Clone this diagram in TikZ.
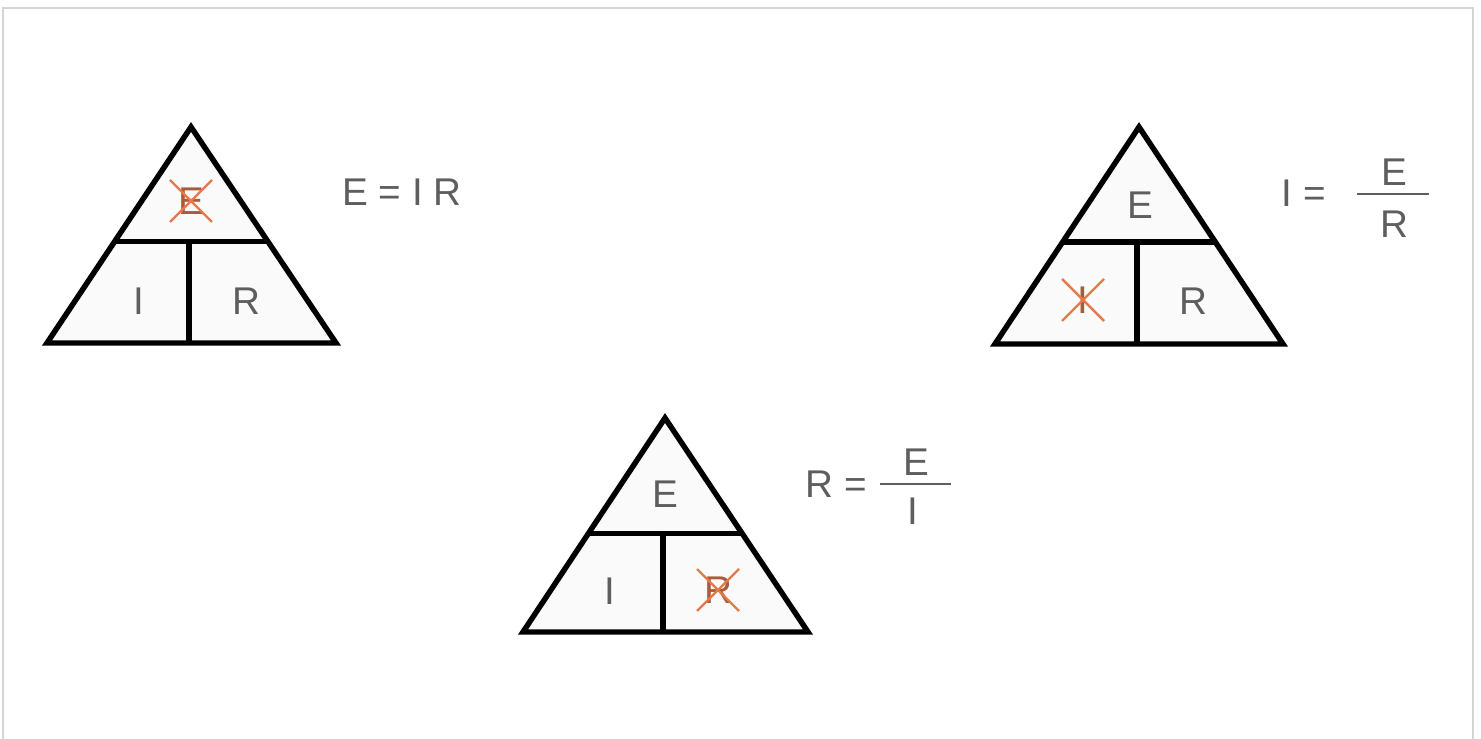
\documentclass[tikz,border=0pt]{standalone}
\usepackage{fontspec}
\setmainfont{Liberation Sans}
\usetikzlibrary{calc}
\definecolor{txtgrey}{HTML}{5E5E5E}
\definecolor{xorange}{HTML}{E27A4C}
\definecolor{framegrey}{HTML}{D4D4D4}
\tikzset{
  tri/.style={line width=3.1pt, line join=miter, fill=black!2},
  letter/.style={text=txtgrey, inner sep=0pt, font=\fontsize{22}{24}\selectfont},
  gone/.style={letter, text=xorange!75!black},
  cancelline/.style={draw=xorange, line width=1.4pt},
  fracbar/.style={draw=txtgrey, line width=1.1pt}
}

\begin{document}
\begin{tikzpicture}[x=0.02cm, y=-0.02cm]
  \useasboundingbox (0,0) rectangle (1481,739);
  \draw[framegrey, line width=0.6pt] (3,739) -- (3,8) -- (1473,8) -- (1473,739);

  % E = I R
  \coordinate (a1) at (191,127);
  \coordinate (l1) at (47,343);
  \coordinate (r1) at (336,343);
  \coordinate (ml1) at ($(a1)!0.53!(l1)$);
  \coordinate (mr1) at ($(a1)!0.53!(r1)$);
  \coordinate (bm1) at (189,343);
  \draw[tri] (a1) -- (r1) -- (l1) -- cycle;
  \draw[tri] (ml1) -- (mr1);
  \draw[tri] (bm1) -- (bm1 |- ml1);
  \node[gone] (e1) at (191,201) {E};
  \node[letter] (i1) at (139,301) {I};
  \node[letter] (rr1) at (246,301) {R};
  \draw[cancelline] ([shift={(-21,-21)}]e1.center) -- ([shift={(21,21)}]e1.center);
  \draw[cancelline] ([shift={(21,-21)}]e1.center) -- ([shift={(-21,21)}]e1.center);
  \node[letter] (eq1) at (402,192) {E = I R};

  % I = E / R
  \coordinate (a2) at (1139,127);
  \coordinate (l2) at (995,344);
  \coordinate (r2) at (1283,344);
  \coordinate (ml2) at ($(a2)!0.53!(l2)$);
  \coordinate (mr2) at ($(a2)!0.53!(r2)$);
  \coordinate (bm2) at (1137,344);
  \draw[tri] (a2) -- (r2) -- (l2) -- cycle;
  \draw[tri] (ml2) -- (mr2);
  \draw[tri] (bm2) -- (bm2 |- ml2);
  \node[letter] (e2) at (1140,205) {E};
  \node[gone] (i2) at (1083,300) {I};
  \node[letter] (rr2) at (1193,301) {R};
  \draw[cancelline] ([shift={(-21,-21)}]i2.center) -- ([shift={(21,21)}]i2.center);
  \draw[cancelline] ([shift={(21,-21)}]i2.center) -- ([shift={(-21,21)}]i2.center);
  \node[letter] (lhs2) at (1304,193) {I =};
  \node[letter] (num2) at (1394,172) {E};
  \node[letter] (den2) at (1394,224) {R};
  \coordinate (bs2) at (1357,194);
  \coordinate (be2) at (1429,194);
  \draw[fracbar] (bs2) -- (be2);

  % R = E / I
  \coordinate (a3) at (665,418);
  \coordinate (l3) at (523,632);
  \coordinate (r3) at (808,632);
  \coordinate (ml3) at ($(a3)!0.54!(l3)$);
  \coordinate (mr3) at ($(a3)!0.54!(r3)$);
  \coordinate (bm3) at (663,632);
  \draw[tri] (a3) -- (r3) -- (l3) -- cycle;
  \draw[tri] (ml3) -- (mr3);
  \draw[tri] (bm3) -- (bm3 |- ml3);
  \node[letter] (e3) at (665,494) {E};
  \node[letter] (i3) at (610,591) {I};
  \node[gone] (rr3) at (718,590) {R};
  \draw[cancelline] ([shift={(-21,-21)}]rr3.center) -- ([shift={(21,21)}]rr3.center);
  \draw[cancelline] ([shift={(21,-21)}]rr3.center) -- ([shift={(-21,21)}]rr3.center);
  \node[letter] (lhs3) at (836,484) {R =};
  \node[letter] (num3) at (916,462) {E};
  \node[letter] (den3) at (913,511) {I};
  \coordinate (bs3) at (880,484);
  \coordinate (be3) at (951,484);
  \draw[fracbar] (bs3) -- (be3);
\end{tikzpicture}
\end{document}
